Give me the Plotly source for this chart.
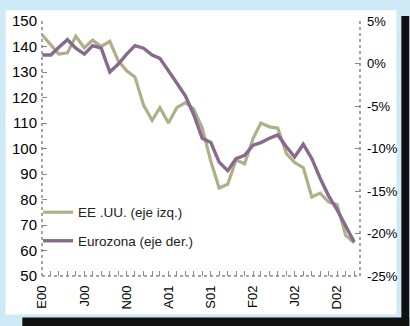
import pandas as pd
import plotly.graph_objects as go

# Monthly observations, January 2000 – February 2003
months = pd.date_range("2000-01-01", periods=38, freq="MS")

# United States index (left axis)
usa = [144.5, 140.5, 137.0, 137.5, 144.0, 139.5, 142.5, 140.0, 142.0, 134.5,
       130.5, 128.0, 117.0, 111.0, 116.0, 110.0, 116.0, 118.0, 115.5, 108.0,
       95.0, 84.5, 86.0, 95.5, 94.0, 104.0, 110.0, 108.5, 108.0, 98.0,
       94.5, 92.5, 81.0, 82.5, 79.0, 78.0, 66.0, 63.0]

# Euro area, percent change (right axis)
euro = [1.0, 1.0, 1.9, 2.8, 1.8, 1.1, 2.1, 1.8, -1.0, -0.1,
        1.1, 2.1, 1.8, 1.0, 0.6, -0.8, -2.3, -3.8, -6.0, -8.8,
        -9.3, -11.6, -12.6, -11.2, -10.8, -9.6, -9.3, -8.8, -8.4, -9.8,
        -11.0, -9.5, -11.2, -13.5, -15.6, -17.2, -19.2, -21.0]

# Axis ticks
x_label_months = {"2000-01": "E00", "2000-06": "J00", "2000-11": "N00",
                  "2001-04": "A01", "2001-09": "S01", "2002-02": "F02",
                  "2002-07": "J02", "2002-12": "D02"}
left_ticks = [50, 60, 70, 80, 90, 100, 110, 120, 130, 140, 150]
right_ticks = [-25, -20, -15, -10, -5, 0, 5]
right_ticktext = ["-25%", "-20%", "-15%", "-10%", "-5%", "0%", "5%"]

names = ["EE .UU. (eje izq.)", "Eurozona (eje der.)"]
colors = ["#adb089", "#886a8c"]

W, H = 410, 326
ML, MR, MT, MB = 42, 45, 18, 50
PW, PH = W - ML - MR, H - MT - MB


def px(x):
    return (x - ML) / PW


def py(y):
    return (H - MB - y) / PH


x_all = pd.date_range("2000-01-01", "2003-02-01", freq="MS")
x_tickvals = list(x_all)
x_ticktext = [x_label_months.get(d.strftime("%Y-%m"), "") for d in x_all]

fig = go.Figure()
fig.add_trace(go.Scatter(x=months, y=usa, mode="lines", name=names[0],
                         line=dict(color=colors[0], width=3.2),
                         legendgroup="a", yaxis="y"))
fig.add_trace(go.Scatter(x=months, y=euro, mode="lines", name=names[1],
                         line=dict(color=colors[1], width=3.4),
                         legendgroup="b", yaxis="y2"))

axis_font = dict(family="Liberation Sans, Arial, sans-serif", color="black")

fig.update_layout(
    width=W, height=H,
    margin=dict(l=ML, r=MR, t=MT, b=MB, pad=0),
    paper_bgcolor="#cfeaf7",
    plot_bgcolor="rgba(0,0,0,0)",
    showlegend=True,
    legend=dict(x=px(38), y=py(196), xanchor="left", yanchor="top",
                bgcolor="rgba(0,0,0,0)", tracegroupgap=8,
                font=dict(family="Liberation Sans, Arial, sans-serif",
                          size=13.5, color="#222")),
    xaxis=dict(range=["1999-12-31", "2003-02-22"], tickmode="array",
               tickvals=x_tickvals, ticktext=x_ticktext, tickangle=-90,
               ticks="inside", ticklen=5, tickcolor="#888", tickwidth=1,
               ticklabelstandoff=6,
               showgrid=False, zeroline=False, showline=False,
               tickfont=dict(size=13, **axis_font)),
    yaxis=dict(range=[50, 150], tickmode="array", tickvals=left_ticks,
               ticks="inside", ticklen=5, tickcolor="#888", tickwidth=1,
               ticklabelstandoff=4,
               showgrid=False, zeroline=False, showline=False,
               tickfont=dict(size=15, **axis_font)),
    yaxis2=dict(range=[-25, 5], overlaying="y", side="right",
                tickmode="array", tickvals=right_ticks,
                ticktext=right_ticktext,
                ticks="inside", ticklen=5, tickcolor="#888", tickwidth=1,
                ticklabelstandoff=6,
                showgrid=False, zeroline=False, showline=False,
                tickfont=dict(size=13, **axis_font)),
    shapes=[
        # white panel
        dict(type="rect", xref="paper", yref="paper", layer="below",
             x0=px(5), x1=px(402), y0=py(315), y1=py(7),
             fillcolor="white", line=dict(width=0)),
        # drop shadow
        dict(type="rect", xref="paper", yref="paper", layer="below",
             x0=px(407), x1=px(415), y0=py(330), y1=py(13),
             fillcolor="#111", line=dict(width=0)),
        dict(type="rect", xref="paper", yref="paper", layer="below",
             x0=px(22), x1=px(415), y0=py(330), y1=py(318),
             fillcolor="#111", line=dict(width=0)),
        # dotted axis lines
        dict(type="line", xref="paper", yref="paper", x0=0, x1=0, y0=0, y1=1,
             line=dict(color="#888", width=1.5, dash="dot")),
        dict(type="line", xref="paper", yref="paper", x0=1, x1=1, y0=0, y1=1,
             line=dict(color="#888", width=1.5, dash="dot")),
        dict(type="line", xref="paper", yref="paper", x0=0, x1=1, y0=0, y1=0,
             line=dict(color="#888", width=1.5, dash="dot")),
    ],
)

fig.write_html("out.html")
